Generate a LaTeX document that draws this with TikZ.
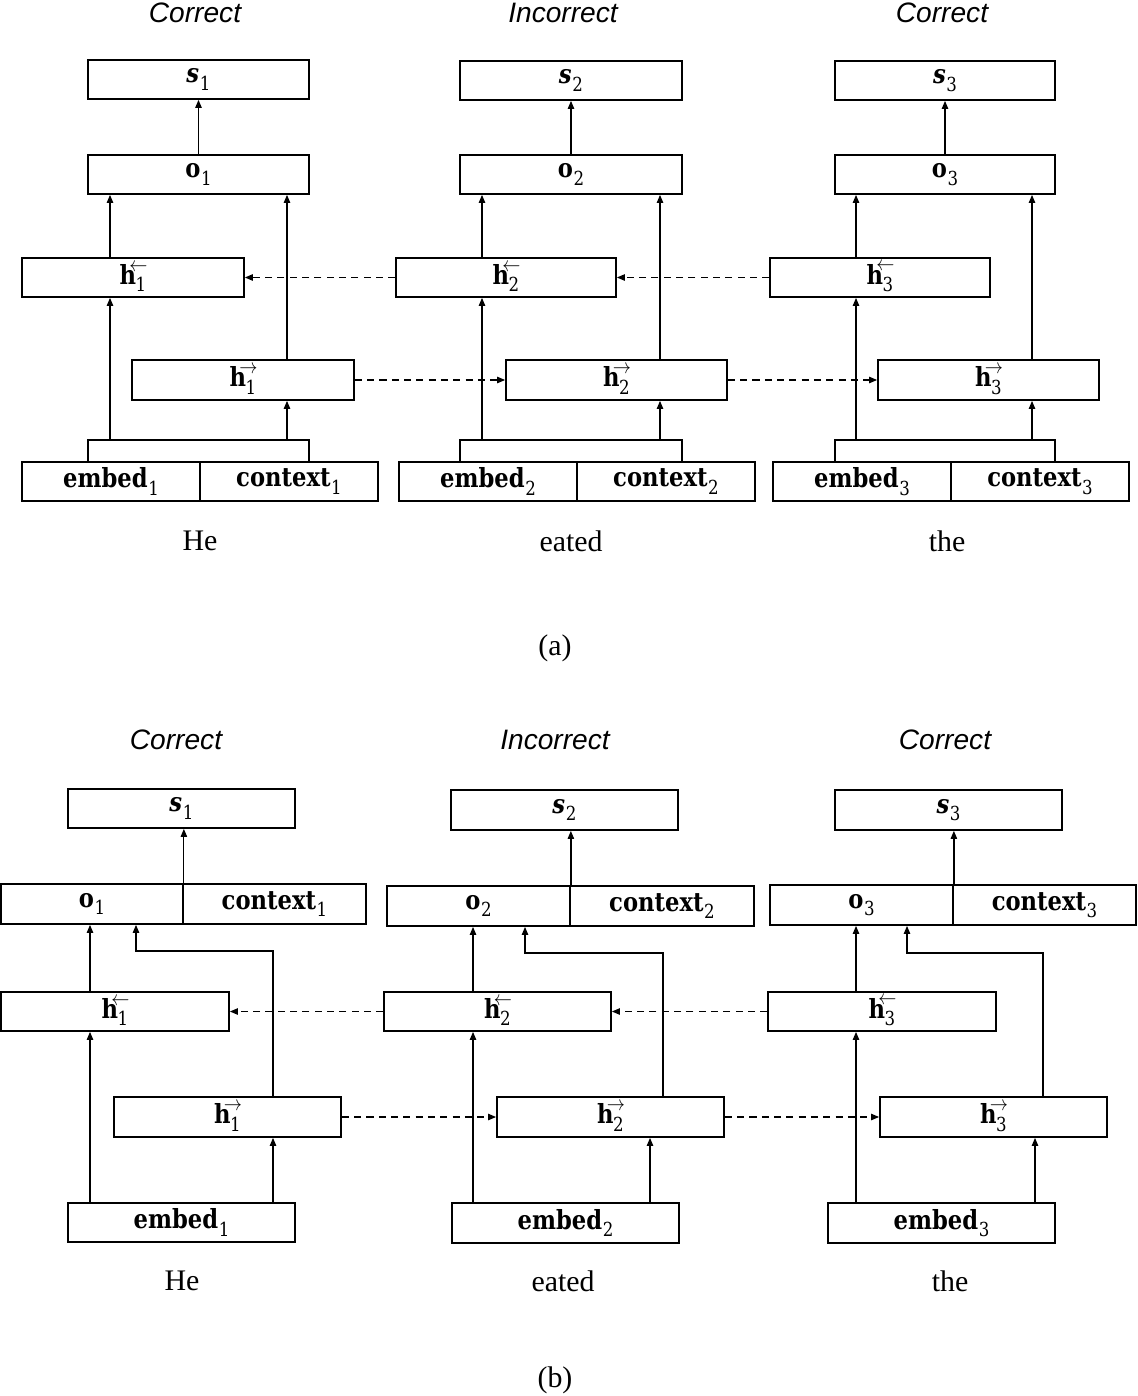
\documentclass[tikz,border=0pt]{standalone}
\usepackage{fontspec}
\usepackage{amsmath}
\newfontfamily\titlefont{Liberation Sans}
\newfontfamily\wordfont{Liberation Serif}
\newfontfamily\bxfont{DejaVu Serif}
\usetikzlibrary{arrows.meta}
\newcommand{\sbs}[1]{\raisebox{-0.28em}{\mdseries\fontsize{11}{11}\selectfont #1}}
\newcommand{\bt}[2]{\textbf{#1}\kern0.03em\sbs{#2}}
\newcommand{\st}[1]{\textbf{\itshape s}\kern0.03em\sbs{#1}}
\newcommand{\hvec}[2]{\textbf{h}\kern-0.02em\sbs{#2}\llap{\raisebox{0.5em}{\fontsize{13}{13}\selectfont$#1$}\kern-0.05em}}
% \bx{name}{x1}{y1}{x2}{y2}{text}
\newcommand{\bx}[6]{\node[box,minimum width={(#4-#2)*0.02cm},minimum height={(#5-#3)*0.02cm}] (#1) at ({(#2+#4)/2},{(#3+#5)/2}) {\scalebox{0.86}[1]{#6}};}
\begin{document}
\begin{tikzpicture}[x=0.02cm,y=-0.02cm,
  box/.style={draw,line width=1pt,inner sep=0pt,font=\bxfont\fontsize{15}{17}\selectfont},
  arr/.style={line width=0.7pt,-{Triangle[length=4.5pt,width=3.6pt]}},
  dasharr/.style={arr,dash pattern=on 4pt off 3pt},
  plain/.style={line width=0.8pt},
  ttl/.style={font=\titlefont\itshape\fontsize{16}{18}\selectfont},
  wrd/.style={font=\wordfont\fontsize{17}{19}\selectfont}]
\useasboundingbox (0,0) rectangle (1137,1396);
% ================= panel (a) =================
\node[ttl] (t1a) at (195,13) {Correct};
\node[ttl] (t2a) at (563,13) {Incorrect};
\node[ttl] (t3a) at (942,13) {Correct};
% column 1
\bx{s1a}{88}{60}{309}{99}{\st{1}}
\bx{o1a}{88}{155}{309}{194}{\bt{o}{1}}
\bx{hb1a}{22}{258}{244}{297}{\hvec{\leftarrow}{1}}
\bx{hf1a}{132}{360}{354}{400}{\hvec{\rightarrow}{1}}
\bx{e1a}{22}{462}{200}{501}{\bt{embed}{1}}
\bx{c1a}{200}{462}{378}{501}{\bt{context}{1}}
% column 2
\bx{s2a}{460}{61}{682}{100}{\st{2}}
\bx{o2a}{460}{155}{682}{194}{\bt{o}{2}}
\bx{hb2a}{396}{258}{616}{297}{\hvec{\leftarrow}{2}}
\bx{hf2a}{506}{360}{727}{400}{\hvec{\rightarrow}{2}}
\bx{e2a}{399}{462}{577}{501}{\bt{embed}{2}}
\bx{c2a}{577}{462}{755}{501}{\bt{context}{2}}
% column 3
\bx{s3a}{835}{61}{1055}{100}{\st{3}}
\bx{o3a}{835}{155}{1055}{194}{\bt{o}{3}}
\bx{hb3a}{770}{258}{990}{297}{\hvec{\leftarrow}{3}}
\bx{hf3a}{878}{360}{1099}{400}{\hvec{\rightarrow}{3}}
\bx{e3a}{773}{462}{951}{501}{\bt{embed}{3}}
\bx{c3a}{951}{462}{1129}{501}{\bt{context}{3}}
% brackets (a)
\coordinate (k1l) at (88,440); \coordinate (k1r) at (309,440);
\coordinate (k2l) at (460,440); \coordinate (k2r) at (682,440);
\coordinate (k3l) at (835,440); \coordinate (k3r) at (1055,440);
\draw[plain] (k1l |- e1a.north) -- (k1l) -- (k1r) -- (k1r |- c1a.north);
\draw[plain] (k2l |- e2a.north) -- (k2l) -- (k2r) -- (k2r |- c2a.north);
\draw[plain] (k3l |- e3a.north) -- (k3l) -- (k3r) -- (k3r |- c3a.north);
\coordinate (a1l) at (110,440); \coordinate (a1r) at (287,440);
\coordinate (a2l) at (482,440); \coordinate (a2r) at (660,440);
\coordinate (a3l) at (856,440); \coordinate (a3r) at (1032,440);
% arrows column 1 (a)
\draw[arr] (a1l) -- (a1l |- hb1a.south);
\draw[arr] (a1r) -- (a1r |- hf1a.south);
\draw[arr] (a1l |- hb1a.north) -- (a1l |- o1a.south);
\draw[arr] (a1r |- hf1a.north) -- (a1r |- o1a.south);
\draw[arr] (o1a.north) -- (s1a.south);
% arrows column 2 (a)
\draw[arr] (a2l) -- (a2l |- hb2a.south);
\draw[arr] (a2r) -- (a2r |- hf2a.south);
\draw[arr] (a2l |- hb2a.north) -- (a2l |- o2a.south);
\draw[arr] (a2r |- hf2a.north) -- (a2r |- o2a.south);
\draw[arr] (o2a.north) -- (s2a.south);
% arrows column 3 (a)
\draw[arr] (a3l) -- (a3l |- hb3a.south);
\draw[arr] (a3r) -- (a3r |- hf3a.south);
\draw[arr] (a3l |- hb3a.north) -- (a3l |- o3a.south);
\draw[arr] (a3r |- hf3a.north) -- (a3r |- o3a.south);
\draw[arr] (o3a.north) -- (s3a.south);
% dashed (a)
\draw[dasharr] (hb2a.west) -- (hb1a.east);
\draw[dasharr] (hb3a.west) -- (hb2a.east);
\draw[dasharr] (hf1a.east) -- (hf2a.west);
\draw[dasharr] (hf2a.east) -- (hf3a.west);
% words (a)
\node[wrd] (w1a) at (200,541) {He};
\node[wrd] (w2a) at (571,541) {eated};
\node[wrd] (w3a) at (947,541) {the};
\node[wrd] (capa) at (555,648) {(a)};
% ================= panel (b) =================
\node[ttl] (t1b) at (176,740) {Correct};
\node[ttl] (t2b) at (555,740) {Incorrect};
\node[ttl] (t3b) at (945,740) {Correct};
% column 1
\bx{s1b}{68}{789}{295}{828}{\st{1}}
\bx{o1b}{1}{884}{183}{924}{\bt{o}{1}}
\bx{x1b}{183}{884}{366}{924}{\bt{context}{1}}
\bx{hb1b}{1}{992}{229}{1031}{\hvec{\leftarrow}{1}}
\bx{hf1b}{114}{1097}{341}{1137}{\hvec{\rightarrow}{1}}
\bx{e1b}{68}{1203}{295}{1242}{\bt{embed}{1}}
% column 2
\bx{s2b}{451}{790}{678}{830}{\st{2}}
\bx{o2b}{387}{886}{570}{926}{\bt{o}{2}}
\bx{x2b}{570}{886}{754}{926}{\bt{context}{2}}
\bx{hb2b}{384}{992}{611}{1031}{\hvec{\leftarrow}{2}}
\bx{hf2b}{497}{1097}{724}{1137}{\hvec{\rightarrow}{2}}
\bx{e2b}{452}{1203}{679}{1243}{\bt{embed}{2}}
% column 3
\bx{s3b}{835}{790}{1062}{830}{\st{3}}
\bx{o3b}{770}{885}{953}{925}{\bt{o}{3}}
\bx{x3b}{953}{885}{1136}{925}{\bt{context}{3}}
\bx{hb3b}{768}{992}{996}{1031}{\hvec{\leftarrow}{3}}
\bx{hf3b}{880}{1097}{1107}{1137}{\hvec{\rightarrow}{3}}
\bx{e3b}{828}{1203}{1055}{1243}{\bt{embed}{3}}
% arrows column 1 (b)
\coordinate (b1l) at (90,0); \coordinate (b1r) at (273,0);
\coordinate (b1u) at (273,951); \coordinate (b1v) at (136,951);
\draw[arr] (b1l |- e1b.north) -- (b1l |- hb1b.south);
\draw[arr] (b1r |- e1b.north) -- (b1r |- hf1b.south);
\draw[arr] (b1l |- hb1b.north) -- (b1l |- o1b.south);
\draw[arr] (b1r |- hf1b.north) -- (b1u) -- (b1v) -- (b1v |- o1b.south);
\draw[arr] (o1b.north east) -- (o1b.north east |- s1b.south);
% arrows column 2 (b)
\coordinate (b2l) at (473,0); \coordinate (b2r) at (650,0);
\coordinate (b2u) at (663,953); \coordinate (b2v) at (525,953);
\draw[arr] (b2l |- e2b.north) -- (b2l |- hb2b.south);
\draw[arr] (b2r |- e2b.north) -- (b2r |- hf2b.south);
\draw[arr] (b2l |- hb2b.north) -- (b2l |- o2b.south);
\draw[arr] (b2u |- hf2b.north) -- (b2u) -- (b2v) -- (b2v |- o2b.south);
\draw[arr] (o2b.north east) -- (o2b.north east |- s2b.south);
% arrows column 3 (b)
\coordinate (b3l) at (856,0); \coordinate (b3r) at (1035,0);
\coordinate (b3u) at (1043,953); \coordinate (b3v) at (907,953);
\draw[arr] (b3l |- e3b.north) -- (b3l |- hb3b.south);
\draw[arr] (b3r |- e3b.north) -- (b3r |- hf3b.south);
\draw[arr] (b3l |- hb3b.north) -- (b3l |- o3b.south);
\draw[arr] (b3u |- hf3b.north) -- (b3u) -- (b3v) -- (b3v |- o3b.south);
\draw[arr] (o3b.north east) -- (o3b.north east |- s3b.south);
% dashed (b)
\draw[dasharr] (hb2b.west) -- (hb1b.east);
\draw[dasharr] (hb3b.west) -- (hb2b.east);
\draw[dasharr] (hf1b.east) -- (hf2b.west);
\draw[dasharr] (hf2b.east) -- (hf3b.west);
% words (b)
\node[wrd] (w1b) at (182,1281) {He};
\node[wrd] (w2b) at (563,1281) {eated};
\node[wrd] (w3b) at (950,1281) {the};
\node[wrd] (capb) at (555,1380) {(b)};
\end{tikzpicture}
\end{document}
